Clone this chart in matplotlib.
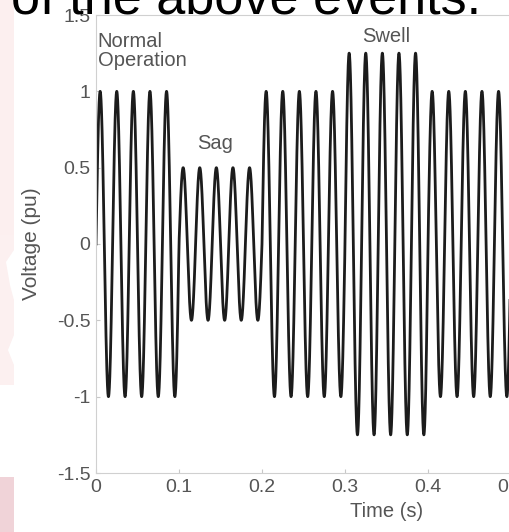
import matplotlib
matplotlib.use("Agg")
import matplotlib.pyplot as plt
import numpy as np
from matplotlib.patches import Polygon, Rectangle

# waveform: 50 Hz, amplitude per 0.1 s segment
freq = 50
seg_start = [0.0, 0.1, 0.2, 0.3, 0.4]
seg_end = [0.1, 0.2, 0.3, 0.4, 0.5]
seg_amp = [1.0, 0.5, 1.0, 1.25, 1.0]

x_ticks = [0, 0.1, 0.2, 0.3, 0.4, 0.5]
x_tick_labels = ["0", "0.1", "0.2", "0.3", "0.4", "0.5"]
y_ticks = [-1.5, -1, -0.5, 0, 0.5, 1, 1.5]
y_tick_labels = ["-1.5", "-1", "-0.5", "0", "0.5", "1", "1.5"]

labels = ["Normal\nOperation", "Sag", "Swell"]
label_t = [0.002, 0.122, 0.321]
label_v = [1.39, 0.72, 1.42]

plt.rcParams["font.family"] = ["Liberation Sans", "DejaVu Sans"]

fig = plt.figure(figsize=(5.1, 5.32), dpi=100)
W, H = 510, 532

# slide decoration on the left
fig.patches.append(Rectangle((0, 1 - 235 / H), 14 / W, 235 / H, transform=fig.transFigure,
                             facecolor="#fcefef", edgecolor="none", zorder=0))
shape = [(0, 235), (14, 235), (14, 250), (6, 262), (10, 285), (14, 300), (14, 335),
         (8, 350), (14, 365), (14, 385), (0, 385)]
fig.patches.append(Polygon([(px / W, 1 - py / H) for px, py in shape], closed=True,
                           transform=fig.transFigure, facecolor="#fcf0f0",
                           edgecolor="none", zorder=0))
fig.patches.append(Rectangle((0, 0), 14 / W, 55 / H, transform=fig.transFigure,
                             facecolor="#f0d3d8", edgecolor="none", zorder=0))

ax = fig.add_axes([96 / W, 59 / H, 415 / W, 458 / H])
ax.patch.set_alpha(0)

t = np.linspace(0, 0.5, 10001)
amp = np.zeros_like(t)
for s, e, a in zip(seg_start, seg_end, seg_amp):
    amp[(t >= s) & (t <= e)] = a
v = amp * np.sin(2 * np.pi * freq * t)
ax.plot(t, v, color="#1c1c1c", lw=2.0)

ax.set_xlim(0, 0.5)
ax.set_ylim(-1.5, 1.5)
ax.set_xticks(x_ticks)
ax.set_xticklabels(x_tick_labels)
ax.set_yticks(y_ticks)
ax.set_yticklabels(y_tick_labels)
ax.tick_params(direction="in", length=3, color="#c8c8c8", labelsize=14,
               labelcolor="#555555")
ax.tick_params(axis="x", pad=4)
ax.tick_params(axis="y", pad=4)
for sp in ax.spines.values():
    sp.set_color("#d0d0d0")
    sp.set_linewidth(0.8)

ax.set_xlabel("Time (s)", fontsize=14.5, color="#555555")
ax.xaxis.set_label_coords(0.70, -0.064)
ax.set_ylabel("Voltage (pu)", fontsize=15, color="#555555")
ax.yaxis.set_label_coords(-0.133, 0.5)

for txt, tx, ty in zip(labels, label_t, label_v):
    ax.text(tx, ty, txt, fontsize=14.5, color="#555555", va="top", ha="left",
            linespacing=1.0)

fig.text(11 / W, 1 - 13 / H, "of the above events.", fontsize=37.5, color="black",
         ha="left", va="baseline", zorder=10)

fig.savefig("out.png", dpi=100)
